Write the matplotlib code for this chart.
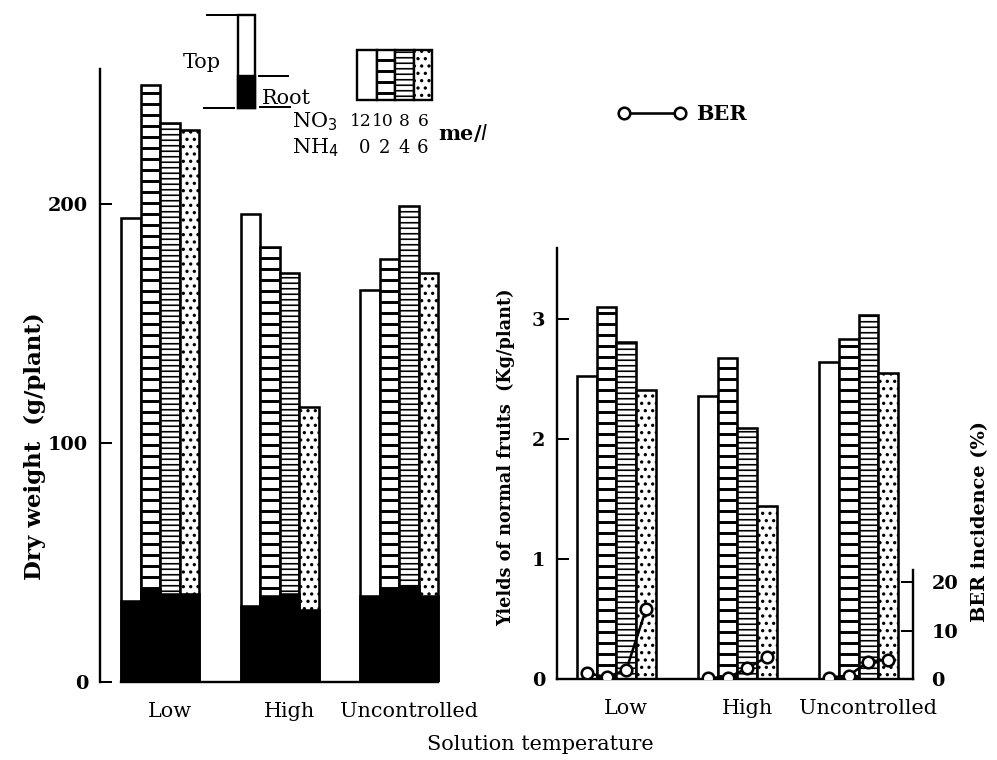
import numpy as np
import matplotlib
matplotlib.use("Agg")
import matplotlib.pyplot as plt
from matplotlib.lines import Line2D
from matplotlib.patches import Rectangle

# Data
temperatures = ["Low", "High", "Uncontrolled"]
no3_levels = ["12", "10", "8", "6"]
nh4_levels = ["0", "2", "4", "6"]

# Dry weight of the whole plant (top + root), g/plant
total_weight_n12 = [194, 196, 164]
total_weight_n10 = [250, 182, 177]
total_weight_n8 = [234, 171, 199]
total_weight_n6 = [231, 115, 171]

# Root part of the dry weight, g/plant
root_weight_n12 = [34, 32, 36]
root_weight_n10 = [39, 36, 39]
root_weight_n8 = [37, 37, 40]
root_weight_n6 = [37, 30, 36]

# Yields of normal fruits, kg/plant
yield_n12 = [2.52, 2.36, 2.64]
yield_n10 = [3.10, 2.67, 2.83]
yield_n8 = [2.81, 2.09, 3.03]
yield_n6 = [2.41, 1.44, 2.55]

# BER incidence, %
ber_n12 = [1.2, 0.3, 0.3]
ber_n10 = [0.4, 0.3, 0.7]
ber_n8 = [1.9, 2.2, 3.6]
ber_n6 = [14.4, 4.6, 4.0]

total_weight = [total_weight_n12, total_weight_n10, total_weight_n8, total_weight_n6]
root_weight = [root_weight_n12, root_weight_n10, root_weight_n8, root_weight_n6]
yields = [yield_n12, yield_n10, yield_n8, yield_n6]
ber = np.array([ber_n12, ber_n10, ber_n8, ber_n6])

# Styles
DPI = 132
W, H = 997, 760
FS = 11.3
hatches = [None, "--", "----", "..."]
hatch_lw = [0, 1.6, 0.9, 1.0]
edge_lw = 1.4

plt.rcParams["font.family"] = ["DejaVu Serif"]
plt.rcParams["font.size"] = FS
plt.rcParams["hatch.linewidth"] = 1.2

group_gap = 6.13
group_x = np.arange(len(temperatures)) * group_gap
offsets = np.array([-1.5, -0.5, 0.5, 1.5])


def px_axes(fig, left, top, right, bottom):
    """Axes placed by pixel edges of the 997x760 picture."""
    return fig.add_axes([left / W, 1 - bottom / H, (right - left) / W, (bottom - top) / H])


def draw_bars(ax, values, **kw):
    for i, vals in enumerate(values):
        bars = ax.bar(group_x + offsets[i], vals, width=1.0, facecolor="white",
                      edgecolor="black", linewidth=edge_lw, hatch=hatches[i], **kw)
        for b in bars:
            if hasattr(b, "set_hatch_linewidth") and hatches[i]:
                b.set_hatch_linewidth(hatch_lw[i])


def style_axis(ax):
    for s in ["top", "right"]:
        ax.spines[s].set_visible(False)
    ax.spines["left"].set_linewidth(1.3)
    ax.spines["bottom"].set_linewidth(1.3)
    ax.tick_params(axis="y", direction="in", length=6.5, width=1.1, pad=6.5)
    ax.tick_params(axis="x", length=0, pad=11)
    ax.set_xticks(group_x + 0.5)
    ax.set_xticklabels(temperatures, fontsize=FS)
    for t in ax.get_yticklabels():
        t.set_fontweight("bold")
        t.set_fontsize(10.5)


fig = plt.figure(figsize=(W / DPI, H / DPI), dpi=DPI)

# ---------------- Dry weight panel ----------------
ax1 = px_axes(fig, 100, 69, 440, 682)
draw_bars(ax1, total_weight)
for i, vals in enumerate(root_weight):
    ax1.bar(group_x + offsets[i], vals, width=1.0, color="black",
            edgecolor="black", linewidth=edge_lw)
ax1.set_xlim(-3.08, 14.36)
ax1.set_ylim(0, 256.5)
ax1.set_yticks([0, 100, 200])
style_axis(ax1)
ax1.spines["bottom"].set_bounds(group_x[0] - 2, group_x[-1] + 2)
ax1.set_ylabel("Dry weight  (g/plant)", fontsize=12.5, fontweight="bold")
ax1.yaxis.set_label_coords(-0.16, 0.385)

# ---------------- Yield panel ----------------
ax2 = px_axes(fig, 557, 248, 913, 679)
draw_bars(ax2, yields)
ax2.set_xlim(-3.01, 15.02)
ax2.set_ylim(0, 3.59)
ax2.set_yticks([0, 1, 2, 3])
style_axis(ax2)
ax2.set_ylabel("Yields of normal fruits  (Kg/plant)", fontsize=9.6, fontweight="bold")
ax2.yaxis.set_label_coords(-0.118, 0.514)

# BER incidence on a second scale
ax3 = ax2.twinx()
ax3.set_ylim(0, 89)
for s in ["top", "left", "bottom"]:
    ax3.spines[s].set_visible(False)
ax3.spines["right"].set_bounds(0, 22.5)
ax3.spines["right"].set_linewidth(1.3)
ax3.set_yticks([0, 10, 20])
ax3.tick_params(axis="y", direction="in", length=6.5, width=1.1, pad=10)
for t in ax3.get_yticklabels():
    t.set_fontweight("bold")
    t.set_fontsize(10.5)
for g in range(len(temperatures)):
    ax3.plot(group_x[g] + offsets, ber[:, g], color="black", linewidth=1.4,
             marker="o", markersize=6.3, markerfacecolor="white",
             markeredgecolor="black", markeredgewidth=1.4)
ax3.set_ylabel("BER incidence (%)", fontsize=10.5, fontweight="bold")
ax3.yaxis.set_label_coords(1.163, 0.365)

ber_handle = Line2D([], [], color="black", linewidth=1.4, marker="o", markersize=6.3,
                    markerfacecolor="white", markeredgecolor="black", markeredgewidth=1.4)
fig.legend([ber_handle], ["BER"], loc="center left", numpoints=2, frameon=False,
           bbox_to_anchor=(618 / W, 1 - 114 / H), borderpad=0, borderaxespad=0,
           handlelength=3.3, handletextpad=0.45, prop={"weight": "bold", "size": FS})

fig.text(540 / W, 1 - 745 / H, "Solution temperature", ha="center", va="center", fontsize=FS)

# ---------------- Key (top left) drawn in pixel coordinates ----------------
key = fig.add_axes([0, 0, 1, 1], facecolor="none")
key.set_xlim(0, W)
key.set_ylim(H, 0)
key.axis("off")

# Top / Root bar
key.add_patch(Rectangle((238, 15), 17, 93, facecolor="white", edgecolor="black", linewidth=1.3))
key.add_patch(Rectangle((238, 76), 17, 32, facecolor="black", edgecolor="black", linewidth=1.3))
key.plot([207, 254], [15, 15], color="black", linewidth=1.1)
key.plot([204, 234], [108, 108], color="black", linewidth=1.1)
key.plot([259, 288], [76, 76], color="black", linewidth=1.1)
key.plot([260, 290], [107, 107], color="black", linewidth=1.1)
key.text(221, 62, "Top", ha="right", va="center", fontsize=FS)
key.text(262, 98, "Root", ha="left", va="center", fontsize=FS)

# Nitrogen treatment swatches
cell_x = [357, 376.5, 395, 414]
cell_w = [19.5, 18.5, 19, 18]
no3_x = [361, 383, 404, 423]
nh4_x = [365, 385, 404, 423]
for i in range(4):
    r = Rectangle((cell_x[i], 50), cell_w[i], 50, facecolor="white", edgecolor="black",
                  linewidth=1.3, hatch=hatches[i])
    if hasattr(r, "set_hatch_linewidth") and hatches[i]:
        r.set_hatch_linewidth(hatch_lw[i])
    key.add_patch(r)
    key.text(no3_x[i], 122, no3_levels[i], ha="center", va="center", fontsize=9.3)
    key.text(nh4_x[i], 148, nh4_levels[i], ha="center", va="center", fontsize=9.8)
key.text(292, 122, "NO$_3$", ha="left", va="center", fontsize=FS)
key.text(292, 148, "NH$_4$", ha="left", va="center", fontsize=FS)
key.text(438, 133, "me/$l$", ha="left", va="center", fontsize=FS, fontweight="bold")

fig.savefig("out.png", dpi=DPI, facecolor="white")
